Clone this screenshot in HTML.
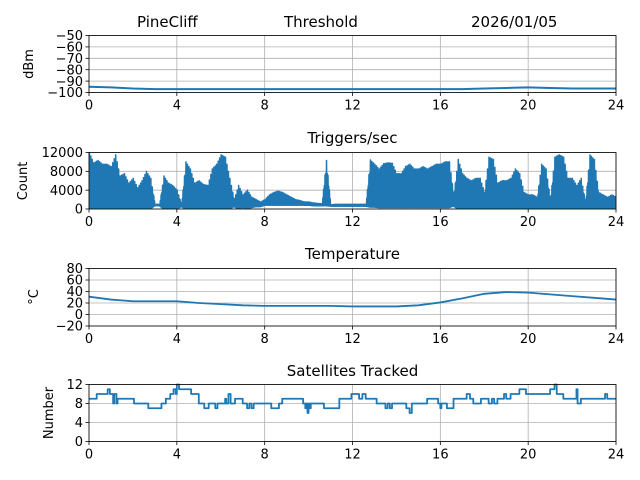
<!DOCTYPE html>
<html><head><meta charset="utf-8"><style>
html,body{margin:0;padding:0;background:#fff}
svg{display:block;font-family:"DejaVu Sans","Liberation Sans",sans-serif}
</style></head><body>
<svg id="fig" width="640" height="480" viewBox="0 0 640 480" xmlns="http://www.w3.org/2000/svg">
<rect width="640" height="480" fill="#fff"/>
<text x="137" y="27" font-size="15">PineCliff</text>
<text x="284" y="27" font-size="15">Threshold</text>
<text x="471" y="27" font-size="15">2026/01/05</text>
<text x="352.5" y="143" font-size="15" text-anchor="middle">Triggers/sec</text>
<text x="352.5" y="259" font-size="15" text-anchor="middle">Temperature</text>
<text x="352.5" y="376" font-size="15" text-anchor="middle">Satellites Tracked</text>
<text transform="translate(33,64) rotate(-90)" font-size="13" text-anchor="middle">dBm</text>
<text transform="translate(27,181) rotate(-90)" font-size="13" text-anchor="middle">Count</text>
<text transform="translate(38,297) rotate(-90)" font-size="13" text-anchor="middle">°C</text>
<text transform="translate(53,413) rotate(-90)" font-size="13" text-anchor="middle">Number</text>
</svg>
<script>
const xTicks=[0,4,8,12,16,20,24];
const sigHours=[0,1,2,3,4,5,6,7,8,9,10,11,12,13,14,15,16,17,18,19,20,21,22,23,24];
const sigVals=[-95,-95.5,-96.5,-97,-97,-97,-97,-97,-97,-97,-97,-97,-97,-97,-97,-97,-97,-97,-96.5,-96,-95.5,-96,-96.5,-96.5,-96.5];
const sigTicks=[-50,-60,-70,-80,-90,-100];
const trigPeaks=[12000,9800,10300,9500,9500,9000,11500,7000,7500,5500,6500,4500,6000,8000,6500,1000,1000,7000,5500,5000,4000,1000,10000,8500,5500,6000,5200,5000,8500,9500,11500,11000,6500,2000,5000,3000,4000,2500,2000,1500,2000,3000,3500,3800,3500,3000,2500,2000,1800,1500,1500,1300,1200,1100,10300,900,1000,1000,1000,1000,1000,1000,1000,1000,10400,9500,8500,9600,9800,9700,7500,7500,9000,9500,8500,8500,9000,8500,9000,9500,9500,10000,10000,3000,10500,7500,6500,6000,6500,6500,3500,11000,10500,5500,6000,6000,6500,8500,7500,3500,3000,3000,2500,9500,8500,2000,11000,11500,11000,6500,6500,5000,6500,1500,11500,10500,3500,3000,2500,3000,2500];
const trigLows=[0,0,0,0,0,0,0,0,0,0,0,0,0,0,0,700,700,0,0,0,0,500,0,0,0,0,0,0,0,0,0,0,0,500,0,300,0,300,500,500,800,800,800,800,800,800,800,800,800,800,800,700,700,700,700,600,600,600,600,600,600,600,600,600,400,400,300,300,300,300,300,300,300,300,300,300,300,300,300,300,300,300,300,600,0,0,0,0,0,0,0,0,0,0,0,0,0,0,0,0,0,0,0,0,0,0,0,0,0,0,0,0,0,0,0,0,0,0,0,0,0];
const trigTicks=[0,4000,8000,12000];
const tempHours=[0,1,2,3,4,5,6,7,8,9,10,11,12,13,14,15,16,17,18,19,20,21,22,23,24];
const tempVals=[31,26,23,23,23,20,18,16,15,15,15,15,14,14,14,16,21,28,36,39,38,35,32,29,26];
const tempTicks=[-20,0,20,40,60,80];
const satTimes=[0,0.35,0.85,0.95,1.1,1.15,1.25,1.3,2.05,2.7,3.3,3.5,3.7,3.85,3.95,4.0,4.1,4.65,5.0,5.25,5.45,5.75,5.85,6.2,6.25,6.35,6.45,6.65,7.0,7.2,7.3,7.4,7.5,8.3,8.65,8.8,9.75,9.85,9.9,9.95,10.0,10.05,10.1,10.7,11.4,11.95,12.3,12.45,12.6,13.1,13.5,13.6,13.7,13.8,14.45,14.6,14.7,15.4,15.9,16.0,16.05,16.3,16.6,17.2,17.35,17.5,17.85,18.2,18.35,18.45,18.6,18.9,19.0,19.2,19.6,19.9,21.0,21.2,21.3,21.6,22.2,22.25,22.4,23.5,23.6,24];
const satVals=[9,10,11,10,8,10,8,9,8,7,8,9,10,11,10,12,11,10,8,7,8,7,8,9,8,10,8,9,8,7,8,7,8,7,8,9,8,7,8,6,8,7,8,7,9,10,9,10,9,8,7,8,7,8,7,6,8,9,8,7,8,7,9,10,9,8,9,8,9,8,9,10,9,10,11,10,11,12,10,9,11,8,9,10,9,9];
const satTicks=[0,4,8,12];

const NS='http://www.w3.org/2000/svg';
const svg=document.getElementById('fig');
const X0=89,X1=616;
function sx(h){return X0+(X1-X0)*h/24;}
function mk(tag,attrs,parent){const e=document.createElementNS(NS,tag);for(const k in attrs)e.setAttribute(k,attrs[k]);(parent||svg).appendChild(e);return e;}
function panel(name,top,bot,ymin,ymax,yt,drawFn){
  const g=mk('g',{});
  
  
  const sy=v=>bot-(bot-top)*(v-ymin)/(ymax-ymin);
  xTicks.forEach(t=>{const l=mk('line',{x1:sx(t),x2:sx(t),y1:top,y2:bot,stroke:'#b0b0b0','stroke-width':0.8},g);
    
    mk('line',{x1:sx(t),x2:sx(t),y1:bot,y2:bot+3.5,stroke:'#000','stroke-width':0.8},g);
    const tx=mk('text',{x:sx(t),y:bot+17,'font-size':13,'text-anchor':'middle'},g);tx.textContent=t;
    });
  yt.forEach(t=>{const l=mk('line',{x1:X0,x2:X1,y1:sy(t),y2:sy(t),stroke:'#b0b0b0','stroke-width':0.8},g);
    
    mk('line',{x1:X0-3.5,x2:X0,y1:sy(t),y2:sy(t),stroke:'#000','stroke-width':0.8},g);
    const tx=mk('text',{x:X0-6,y:sy(t)+4.7,'font-size':13,'text-anchor':'end'},g);tx.textContent=(t<0?'\u2212'+(-t):t);
    });
  const cp='clip-'+name;
  const cl=mk('clipPath',{id:cp},g);mk('rect',{x:X0,y:top-1,width:X1-X0,height:bot-top+1},cl);
  const dg=mk('g',{'clip-path':'url(#'+cp+')'},g);
  drawFn(dg,sy);
  const fr=mk('rect',{x:X0,y:top,width:X1-X0,height:bot-top,fill:'none',stroke:'#000','stroke-width':0.8},g);
  
}
function line(g,pts,nm,w){const p=mk('polyline',{points:pts.map(q=>q[0].toFixed(2)+','+q[1].toFixed(2)).join(' '),fill:'none',stroke:'#1f77b4','stroke-width':w||1.6,'stroke-linejoin':'round'},g);
  }

panel('signal',35.5,92.5,-100,-50,sigTicks,(g,sy)=>{
  line(g,sigHours.map((h,i)=>[sx(h),sy(sigVals[i])]),'signal-line',2);
});
panel('triggers',152.5,209,0,12000,trigTicks,(g,sy)=>{
  const pts=[];const n=trigPeaks.length;const step=24/(n-1);const sub=6;
  for(let i=0;i<n;i++){const h=i*step;const nx=Math.min(i+1,n-1);
    for(let k=0;k<sub;k++){const f=k/sub;
      const pk=trigPeaks[i]*(1-f)+trigPeaks[nx]*f;const lo=trigLows[i]*(1-f)+trigLows[nx]*f;
      const pkv=(k%2===0)?pk:pk*0.85+lo*0.15;
      pts.push([sx(h+step*f),sy(lo)]);pts.push([sx(h+step*(k+0.5)/sub),sy(pkv)]);
      if(i===n-1)break;}}
  line(g,pts,'triggers-line',1.5);
});
panel('temperature',268.5,326,-20,80,tempTicks,(g,sy)=>{
  line(g,tempHours.map((h,i)=>[sx(h),sy(tempVals[i])]),'temperature-line',1.8);
});
panel('satellites',384.5,441.5,0,12,satTicks,(g,sy)=>{
  const pts=[];
  satTimes.forEach((t,i)=>{if(i>0)pts.push([sx(t),sy(satVals[i-1])]);pts.push([sx(t),sy(satVals[i])]);});
  line(g,pts,'satellites-line',1.8);
});
</script>
</body></html>
